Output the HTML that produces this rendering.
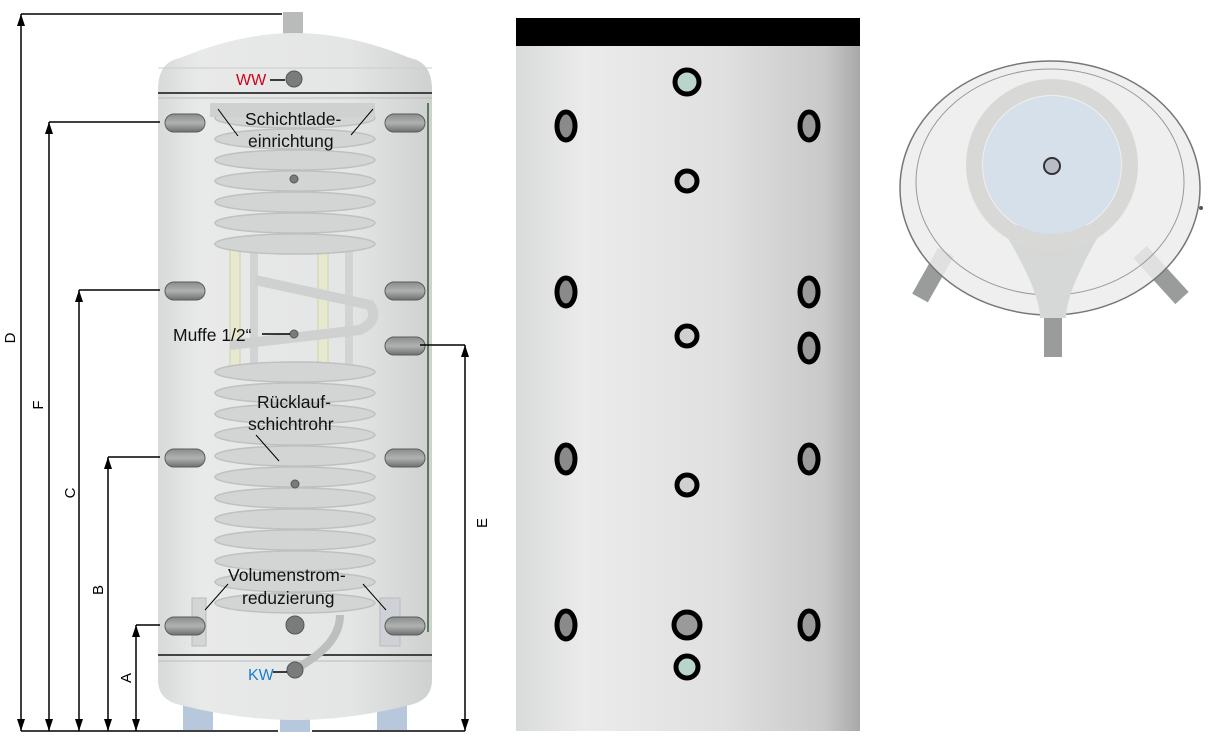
<!DOCTYPE html>
<html><head><meta charset="utf-8"><style>
html,body{margin:0;padding:0;background:#fff;}
svg{display:block;font-family:"Liberation Sans","DejaVu Sans",sans-serif;}
</style></head><body>
<svg width="1216" height="743" viewBox="0 0 1216 743" xmlns="http://www.w3.org/2000/svg">
<defs>
<linearGradient id="tank" x1="0" x2="1"><stop offset="0" stop-color="#d8dada"/><stop offset="0.15" stop-color="#e8e9e9"/><stop offset="0.7" stop-color="#e4e5e5"/><stop offset="1" stop-color="#cfd1d1"/></linearGradient>
<linearGradient id="mid" x1="0" x2="1"><stop offset="0" stop-color="#d9dada"/><stop offset="0.2" stop-color="#ebebeb"/><stop offset="0.6" stop-color="#e0e0e0"/><stop offset="0.9" stop-color="#c9c9c9"/><stop offset="1" stop-color="#a8a8a8"/></linearGradient>
<linearGradient id="port" x1="0" y1="0" x2="0" y2="1"><stop offset="0" stop-color="#8a8c8c"/><stop offset="0.5" stop-color="#b0b2b2"/><stop offset="1" stop-color="#6e7070"/></linearGradient>
<marker id="ah" viewBox="0 0 12 8" refX="12" refY="4" markerWidth="12" markerHeight="8" orient="auto-start-reverse" markerUnits="userSpaceOnUse"><path d="M0,0 L12,4 L0,8 Z" fill="#000"/></marker>
</defs>

<rect x="283" y="12" width="20" height="22" fill="#b9bbbb"/>
<rect x="183" y="680" width="30" height="50" fill="#b8c8dc"/>
<rect x="280" y="680" width="30" height="52" fill="#b8c8dc"/>
<rect x="377" y="680" width="30" height="50" fill="#b8c8dc"/>
<path d="M158,90 Q158,62 180,58 Q240,33 295,33 Q350,33 410,58 Q432,62 432,90 L432,655 L432,680 Q432,700 410,705 Q350,720 295,720 Q240,720 180,705 Q158,700 158,680 Z" fill="url(#tank)"/>
<line x1="158" y1="93" x2="432" y2="93" stroke="#444" stroke-width="2"/>
<line x1="158" y1="98" x2="432" y2="98" stroke="#bbb" stroke-width="1"/>
<line x1="158" y1="655" x2="432" y2="655" stroke="#444" stroke-width="2"/>
<line x1="158" y1="661" x2="432" y2="661" stroke="#bbb" stroke-width="1"/>
<line x1="158" y1="68" x2="432" y2="68" stroke="#ccc" stroke-width="1"/>
<line x1="428" y1="103" x2="428" y2="632" stroke="#5e7a5e" stroke-width="2"/>
<g fill="#e6e8cf" stroke="#d0d2a8">
<rect x="230" y="250" width="10" height="120"/><rect x="318" y="250" width="10" height="120"/>
<rect x="250" y="250" width="8" height="120" fill="#d2d4d4" stroke="none"/><rect x="345" y="250" width="8" height="120" fill="#d2d4d4" stroke="none"/>
</g>
<path d="M255,280 L370,305 Q380,320 360,330 L230,345" fill="none" stroke="#cfd1d1" stroke-width="10"/>
<g fill="#d3d5d5" stroke="#bfc1c1" stroke-width="1.5">
<ellipse cx="295" cy="118" rx="80" ry="10"/><ellipse cx="295" cy="139" rx="80" ry="10"/><ellipse cx="295" cy="160" rx="80" ry="10"/><ellipse cx="295" cy="181" rx="80" ry="10"/><ellipse cx="295" cy="202" rx="80" ry="10"/><ellipse cx="295" cy="223" rx="80" ry="10"/><ellipse cx="295" cy="244" rx="80" ry="10"/>
<ellipse cx="295" cy="372" rx="80" ry="10"/><ellipse cx="295" cy="393" rx="80" ry="10"/><ellipse cx="295" cy="414" rx="80" ry="10"/><ellipse cx="295" cy="435" rx="80" ry="10"/><ellipse cx="295" cy="456" rx="80" ry="10"/><ellipse cx="295" cy="477" rx="80" ry="10"/><ellipse cx="295" cy="498" rx="80" ry="10"/><ellipse cx="295" cy="519" rx="80" ry="10"/><ellipse cx="295" cy="540" rx="80" ry="10"/><ellipse cx="295" cy="561" rx="80" ry="10"/><ellipse cx="295" cy="582" rx="80" ry="10"/><ellipse cx="295" cy="603" rx="80" ry="10"/>
</g>
<path d="M210,110 L375,110" stroke="#cfd1d1" stroke-width="14"/>
<path d="M340,615 Q340,640 310,660 L295,670" fill="none" stroke="#bdbfbf" stroke-width="8"/>
<rect x="192" y="598" width="14" height="48" fill="#d4d6d6" stroke="#bbb"/>
<rect x="380" y="598" width="20" height="48" fill="#cfd1d8" stroke="#bbb"/>
<g fill="url(#port)" stroke="#5a5c5c" stroke-width="1">
<rect x="165" y="114" width="40" height="18" rx="9"/><rect x="165" y="282" width="40" height="18" rx="9"/><rect x="165" y="449" width="40" height="18" rx="9"/><rect x="165" y="617" width="40" height="18" rx="9"/>
<rect x="385" y="114" width="40" height="18" rx="9"/><rect x="385" y="282" width="40" height="18" rx="9"/><rect x="385" y="337" width="40" height="18" rx="9"/><rect x="385" y="449" width="40" height="18" rx="9"/><rect x="385" y="617" width="40" height="18" rx="9"/>
</g>
<g fill="#7a7c7c" stroke="#555">
<circle cx="294" cy="79" r="8"/><circle cx="295" cy="625" r="9"/><circle cx="295" cy="670" r="8"/>
<circle cx="294" cy="179" r="4"/><circle cx="294" cy="334" r="4"/><circle cx="295" cy="484" r="4"/>
</g>
<g font-size="17.5" fill="#111">
<text x="236" y="85" fill="#d0021b" font-size="16">WW</text>
<line x1="270" y1="80" x2="285" y2="80" stroke="#000" stroke-width="1.5"/>
<text x="245" y="125">Schichtlade-</text>
<text x="248" y="147">einrichtung</text>
<line x1="218" y1="109" x2="238" y2="136" stroke="#000"/>
<line x1="373" y1="109" x2="351" y2="135" stroke="#000"/>
<text x="173" y="341">Muffe 1/2“</text>
<line x1="262" y1="334" x2="290" y2="334" stroke="#000" stroke-width="1.5"/>
<text x="257" y="408">Rücklauf-</text>
<text x="248" y="430">schichtrohr</text>
<line x1="256" y1="435" x2="279" y2="461" stroke="#000"/>
<text x="228" y="581">Volumenstrom-</text>
<text x="242" y="604">reduzierung</text>
<line x1="228" y1="584" x2="205" y2="610" stroke="#000"/>
<line x1="363" y1="584" x2="386" y2="610" stroke="#000"/>
<text x="248" y="680" fill="#1a7fd0" font-size="16">KW</text>
<line x1="273" y1="672" x2="287" y2="672" stroke="#000" stroke-width="1.5"/>
</g>
<g stroke="#000" stroke-width="1.5" fill="none">
<line x1="21" y1="14" x2="282" y2="14"/>
<line x1="21" y1="731" x2="278" y2="731"/><line x1="312" y1="731" x2="465" y2="731"/>
<line x1="21" y1="14" x2="21" y2="731" marker-start="url(#ah)" marker-end="url(#ah)"/>
<line x1="49" y1="122" x2="160" y2="122"/><line x1="49" y1="122" x2="49" y2="731" marker-start="url(#ah)" marker-end="url(#ah)"/>
<line x1="79" y1="290" x2="160" y2="290"/><line x1="79" y1="290" x2="79" y2="731" marker-start="url(#ah)" marker-end="url(#ah)"/>
<line x1="108" y1="457" x2="160" y2="457"/><line x1="108" y1="457" x2="108" y2="731" marker-start="url(#ah)" marker-end="url(#ah)"/>
<line x1="136" y1="625" x2="160" y2="625"/><line x1="136" y1="625" x2="136" y2="731" marker-start="url(#ah)" marker-end="url(#ah)"/>
<line x1="420" y1="345" x2="465" y2="345"/><line x1="465" y1="345" x2="465" y2="731" marker-start="url(#ah)" marker-end="url(#ah)"/>
</g>
<g font-size="15" fill="#000">
<text transform="translate(15,338) rotate(-90)" text-anchor="middle">D</text>
<text transform="translate(43,405) rotate(-90)" text-anchor="middle">F</text>
<text transform="translate(75,493) rotate(-90)" text-anchor="middle">C</text>
<text transform="translate(103,590) rotate(-90)" text-anchor="middle">B</text>
<text transform="translate(131,678) rotate(-90)" text-anchor="middle">A</text>
<text transform="translate(487,523) rotate(-90)" text-anchor="middle">E</text>
</g>

<rect x="516" y="45" width="344" height="686" fill="url(#mid)"/>
<rect x="516" y="18" width="344" height="28" fill="#000"/>
<g stroke="#000" stroke-width="5">
<circle cx="687" cy="82" r="12" fill="#b9d4cc"/>
<ellipse cx="566" cy="126" rx="9" ry="14" fill="#8a8a8a"/><ellipse cx="809" cy="126" rx="9" ry="14" fill="#9a9a9a"/>
<circle cx="687" cy="181" r="10" fill="#d0d0d0"/>
<ellipse cx="566" cy="292" rx="9" ry="14" fill="#8a8a8a"/><ellipse cx="809" cy="292" rx="9" ry="14" fill="#9a9a9a"/>
<circle cx="687" cy="336" r="10" fill="#d0d0d0"/>
<ellipse cx="809" cy="348" rx="9" ry="14" fill="#9a9a9a"/>
<ellipse cx="566" cy="459" rx="9" ry="14" fill="#8a8a8a"/><ellipse cx="809" cy="459" rx="9" ry="14" fill="#9a9a9a"/>
<circle cx="687" cy="485" r="10" fill="#d0d0d0"/>
<ellipse cx="566" cy="625" rx="9" ry="14" fill="#8a8a8a"/><circle cx="687" cy="625" r="13" fill="#9a9a9a"/><ellipse cx="809" cy="625" rx="9" ry="14" fill="#9a9a9a"/>
<circle cx="687" cy="667" r="11" fill="#b9d4cc"/>
</g>

<g stroke="#9a9c9c" stroke-width="18">
<line x1="1053" y1="318" x2="1053" y2="357"/>
<line x1="946" y1="252" x2="920" y2="298"/>
<line x1="1140" y1="252" x2="1182" y2="298"/>
</g>
<ellipse cx="1050" cy="188" rx="150" ry="127" fill="#ececec" fill-opacity="0.85" stroke="#777" stroke-width="1.5"/>
<ellipse cx="1050" cy="182" rx="134" ry="113" fill="none" stroke="#999" stroke-width="1"/>
<path d="M1000,225 Q1040,290 1040,318 L1066,318 Q1066,290 1105,225 Z" fill="#d6d8d8"/>
<circle cx="1052" cy="165" r="78" fill="none" stroke="#d8d8d6" stroke-width="16"/>
<circle cx="1052" cy="165" r="69" fill="#d6e0ea"/>
<circle cx="1052" cy="166" r="8" fill="#b8bcc4" stroke="#333" stroke-width="2"/>
<circle cx="1201" cy="208" r="2" fill="#555"/>
</svg>
</body></html>
